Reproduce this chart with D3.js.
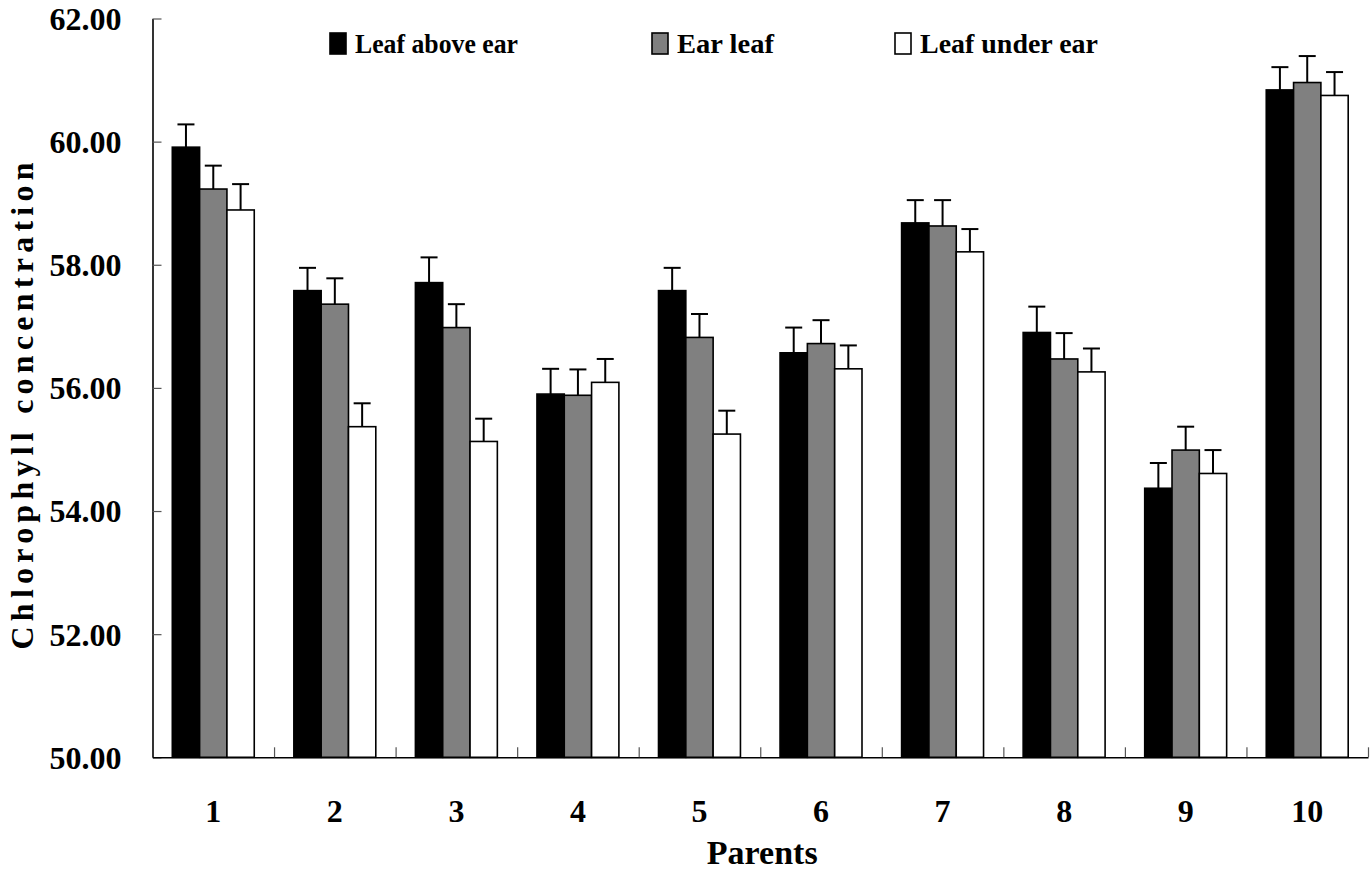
<!DOCTYPE html>
<html>
<head>
<meta charset="utf-8">
<script src="https://cdn.jsdelivr.net/npm/d3@7"></script>
<style>
  body { margin: 0; background: #fff; }
  svg { display: block; }
</style>
</head>
<body>
<svg width="1372" height="872"></svg>
<script>
const categories = ['1', '2', '3', '4', '5', '6', '7', '8', '9', '10'];
const seriesNames = ['Leaf above ear', 'Ear leaf', 'Leaf under ear'];
const seriesFill = ['#000000', '#808080', '#ffffff'];

const leafAbove = [59.91, 57.58, 57.71, 55.90, 57.58, 56.57, 58.68, 56.90, 54.37, 60.84];
const earLeaf   = [59.23, 57.36, 56.98, 55.88, 56.82, 56.72, 58.63, 56.47, 54.99, 60.96];
const leafUnder = [58.89, 55.37, 55.13, 56.09, 55.25, 56.31, 58.21, 56.26, 54.61, 60.75];

const errAbove = [0.37, 0.37, 0.41, 0.41, 0.37, 0.41, 0.37, 0.42, 0.41, 0.37];
const errEar   = [0.38, 0.42, 0.38, 0.42, 0.38, 0.38, 0.42, 0.42, 0.38, 0.43];
const errUnder = [0.42, 0.38, 0.37, 0.38, 0.38, 0.38, 0.37, 0.38, 0.38, 0.38];

const yTicks = [50, 52, 54, 56, 58, 60, 62];

const values = [leafAbove, earLeaf, leafUnder];
const errors = [errAbove, errEar, errUnder];

const FONT = "'Liberation Serif', 'DejaVu Serif', serif";

const svg = d3.select('svg');

const x0 = d3.scaleBand().domain(categories).range([152.5, 1368]).padding(0);
const x1 = d3.scaleBand().domain(seriesNames).range([0, x0.bandwidth()])
    .paddingInner(0).paddingOuter(0.725);
const y = d3.scaleLinear().domain([50, 62]).range([757.3, 18.5]);

// bars
const groups = svg.append('g').selectAll('g')
    .data(categories)
    .enter().append('g')
    .attr('transform', d => `translate(${x0(d)},0)`);

const rows = categories.map((c, i) => seriesNames.map((s, j) => ({
    cat: c, series: s, j: j, value: values[j][i], err: errors[j][i]
})));

groups.selectAll('rect')
    .data((d, i) => rows[i])
    .enter().append('rect')
    .attr('x', d => x1(d.series))
    .attr('y', d => y(d.value))
    .attr('width', x1.bandwidth())
    .attr('height', d => y(50) - y(d.value))
    .attr('fill', d => seriesFill[d.j])
    .attr('stroke', '#000')
    .attr('stroke-width', 1.6);

// error bars
const eb = groups.selectAll('g.err')
    .data((d, i) => rows[i])
    .enter().append('g').attr('class', 'err')
    .attr('stroke', '#000').attr('stroke-width', 2);

eb.append('line')
    .attr('x1', d => x1(d.series) + x1.bandwidth() / 2)
    .attr('x2', d => x1(d.series) + x1.bandwidth() / 2)
    .attr('y1', d => y(d.value))
    .attr('y2', d => y(d.value + d.err));

eb.append('line')
    .attr('x1', d => x1(d.series) + x1.bandwidth() / 2 - 8.5)
    .attr('x2', d => x1(d.series) + x1.bandwidth() / 2 + 8.5)
    .attr('y1', d => y(d.value + d.err))
    .attr('y2', d => y(d.value + d.err));

// y axis
const yAxis = svg.append('g')
    .attr('transform', `translate(${x0.range()[0]},0)`)
    .call(d3.axisLeft(y).tickValues(yTicks).tickFormat(d3.format('.2f'))
        .tickSizeInner(-9).tickSizeOuter(0).tickPadding(31));
yAxis.attr('font-family', null);
yAxis.select('.domain').attr('stroke', '#000').attr('stroke-width', 1.6);
yAxis.selectAll('.tick line').attr('stroke', '#555').attr('stroke-width', 1.2);
yAxis.selectAll('.tick text')
    .attr('font-family', FONT).attr('font-weight', 'bold')
    .attr('font-size', 32)
    .attr('dy', '0.34em');

// x axis: labels under bands, tick marks on band borders
const xAxis = svg.append('g')
    .attr('transform', `translate(0,${y(50)})`)
    .call(d3.axisBottom(x0).tickSize(0).tickPadding(42));
xAxis.attr('font-family', null);
xAxis.select('.domain').remove();
xAxis.selectAll('.tick text')
    .attr('font-family', FONT).attr('font-weight', 'bold')
    .attr('font-size', 32);

const xb = d3.scaleLinear().domain([0, categories.length]).range(x0.range());
const xTicks = svg.append('g')
    .attr('transform', `translate(0,${y(50)})`)
    .call(d3.axisBottom(xb).ticks(categories.length).tickSizeInner(-10)
        .tickSizeOuter(0).tickFormat(''));
xTicks.select('.domain').attr('stroke', '#000').attr('stroke-width', 1.6);
xTicks.selectAll('.tick line').attr('stroke', '#555').attr('stroke-width', 1.2);
xTicks.selectAll('.tick').filter(d => d === 0).remove();

// axis titles
svg.append('text')
    .attr('x', (x0.range()[0] + x0.range()[1]) / 2 + 2)
    .attr('y', 864)
    .attr('text-anchor', 'middle')
    .attr('font-family', FONT).attr('font-weight', 'bold')
    .attr('font-size', 34)
    .text('Parents');

svg.append('text')
    .attr('transform', 'translate(33,406) rotate(-90)')
    .attr('text-anchor', 'middle')
    .attr('textLength', 487)
    .attr('lengthAdjust', 'spacing')
    .attr('font-family', FONT).attr('font-weight', 'bold')
    .attr('font-size', 32)
    .text('Chlorophyll concentration');

// legend
const legendX = [330, 652, 895];
const legendW = [163, 97, 178];
const legend = svg.append('g').selectAll('g')
    .data(seriesNames)
    .enter().append('g')
    .attr('transform', (d, i) => `translate(${legendX[i]},33)`);

legend.append('rect')
    .attr('width', 16).attr('height', 21)
    .attr('fill', (d, i) => seriesFill[i])
    .attr('stroke', '#000').attr('stroke-width', 1.6);

legend.append('text')
    .attr('x', 25)
    .attr('y', 20)
    .attr('textLength', (d, i) => legendW[i])
    .attr('lengthAdjust', 'spacingAndGlyphs')
    .attr('font-family', FONT).attr('font-weight', 'bold')
    .attr('font-size', 28)
    .text(d => d);
</script>
</body>
</html>
